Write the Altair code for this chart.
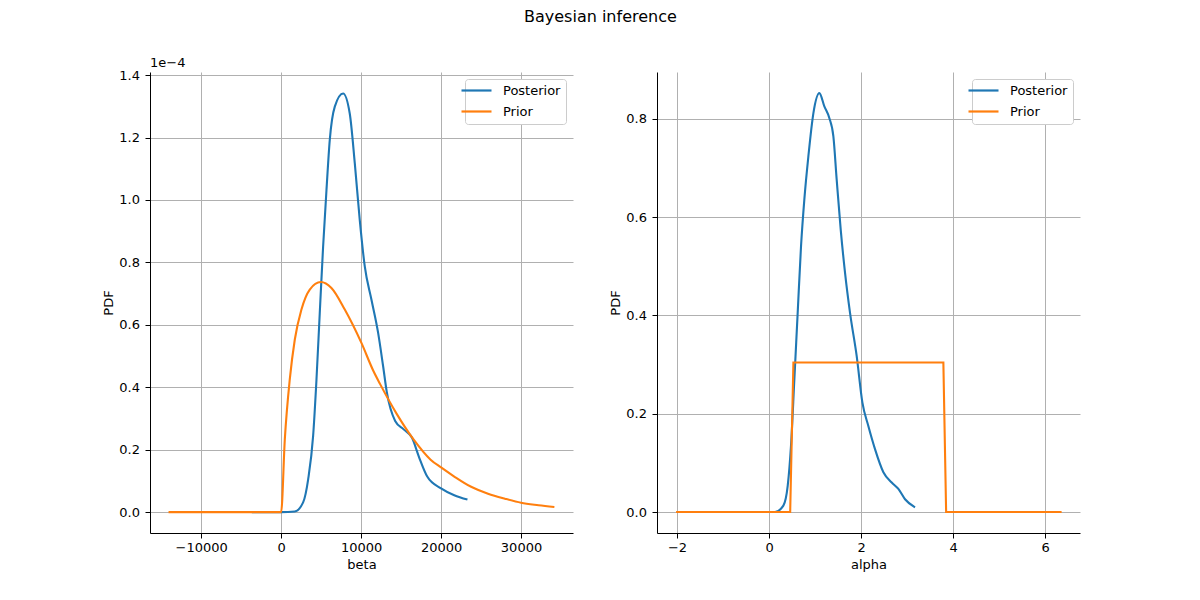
import altair as alt
import pandas as pd

# ---- data ----
series_names = ["Posterior", "Prior"]
series_colors = ["#1f77b4", "#ff7f0e"]

beta_post_x = [-3670, 0, 1710, 2750, 3380, 4000, 4420, 4830, 5250, 5670, 6080, 6710,
               7750, 8580, 9210, 9830, 10460, 11290, 12130, 12750, 13210, 14260,
               15320, 16370, 17220, 18270, 20000, 21650, 23300]
beta_post_pdf_e4 = [0.0, 0.0, 0.002, 0.031, 0.105, 0.244, 0.425, 0.638, 0.851, 1.032, 1.192, 1.299,
                    1.341, 1.277, 1.118, 0.936, 0.787, 0.681, 0.574, 0.468, 0.385, 0.292,
                    0.265, 0.238, 0.178, 0.114, 0.076, 0.054, 0.040]

beta_prior_x = [-14080, 0, 460, 1080, 1710, 2540, 3580, 4960, 6290, 7960, 10040, 11540,
                12380, 14470, 16580, 18690, 20000, 21650, 23760, 25870, 27980, 30000,
                32190, 34170]
beta_prior_pdf_e4 = [0.0, 0.0, 0.233, 0.425, 0.553, 0.649, 0.713, 0.737, 0.718, 0.649, 0.542, 0.452,
                     0.410, 0.314, 0.232, 0.168, 0.143, 0.114, 0.081, 0.059, 0.043, 0.030,
                     0.022, 0.016]

alpha_post_x = [-0.536, 0.13, 0.312, 0.406, 0.478, 0.551, 0.623, 0.696, 0.768, 0.855, 0.964,
                1.094, 1.203, 1.312, 1.399, 1.471, 1.558, 1.652, 1.761, 1.906, 2.029,
                2.159, 2.304, 2.486, 2.667, 2.812, 2.957, 3.174]
alpha_post_pdf = [0.0, 0.0, 0.013, 0.053, 0.135, 0.270, 0.405, 0.541, 0.636, 0.723, 0.811,
                  0.852, 0.825, 0.801, 0.764, 0.676, 0.575, 0.487, 0.405, 0.317, 0.223,
                  0.175, 0.128, 0.081, 0.060, 0.047, 0.026, 0.0095]

alpha_prior_x = [-2.02, 0.46, 0.53, 3.79, 3.85, 6.36]
alpha_prior_pdf = [0.0, 0.0, 0.304, 0.304, 0.0, 0.0]

beta_ticks = [-10000, 0, 10000, 20000, 30000]
beta_pdf_ticks = [0.0, 0.2, 0.4, 0.6, 0.8, 1.0, 1.2, 1.4]
alpha_ticks = [-2, 0, 2, 4, 6]
alpha_pdf_ticks = [0.0, 0.2, 0.4, 0.6, 0.8]

FONT = "DejaVu Sans"


def frame(xs, ys, name):
    return pd.DataFrame({"x": xs, "pdf": ys, "series": name})


def panel(post, prior, xtitle, xdom, ydom, xticks, yticks, prior_interp, title=None):
    color = alt.Color(
        "series:N",
        scale=alt.Scale(domain=series_names, range=series_colors),
        legend=alt.Legend(
            title=None, orient="top-right", offset=7,
            symbolType="M-3,0H3", symbolSize=100, symbolStrokeWidth=2.2,
            labelFont=FONT, labelFontSize=13, labelColor="black", labelOffset=20,
            fillColor="white", strokeColor="#cccccc", cornerRadius=3,
            padding=5, rowPadding=7,
        ),
    )
    x = alt.X("x:Q", title=xtitle,
              scale=alt.Scale(domain=xdom, nice=False, zero=False),
              axis=alt.Axis(values=xticks, format="d", labelPadding=3, titlePadding=4))
    y = alt.Y("pdf:Q", title="PDF",
              scale=alt.Scale(domain=ydom, nice=False, zero=False),
              axis=alt.Axis(values=yticks, format=".1f", labelPadding=5.5, titlePadding=3))
    l1 = alt.Chart(post).mark_line(strokeWidth=2.1, interpolate="monotone").encode(
        x=x, y=y, color=color)
    l2 = alt.Chart(prior).mark_line(strokeWidth=2.1, interpolate=prior_interp).encode(
        x=x, y=y, color=color)
    props = dict(width=423, height=461)
    if title is not None:
        props["title"] = title
    return alt.layer(l1, l2).properties(**props)


left = panel(
    frame(beta_post_x, beta_post_pdf_e4, "Posterior"),
    frame(beta_prior_x, beta_prior_pdf_e4, "Prior"),
    "beta", [-16400, 36500], [-0.067, 1.41], beta_ticks, beta_pdf_ticks, "monotone",
    title=alt.TitleParams("1e\u22124", anchor="start", frame="group", fontSize=13,
                          fontWeight="normal", font=FONT, color="black", offset=-1),
)
right = panel(
    frame(alpha_post_x, alpha_post_pdf, "Posterior"),
    frame(alpha_prior_x, alpha_prior_pdf, "Prior"),
    "alpha", [-2.435, 6.76], [-0.0427, 0.895], alpha_ticks, alpha_pdf_ticks, "linear",
)

chart = (
    alt.hconcat(left, right, spacing=84, bounds="flush")
    .resolve_scale(color="independent")
    .resolve_legend(color="independent")
    .properties(
        title=alt.TitleParams("Bayesian inference", fontSize=16, fontWeight="normal",
                              font=FONT, color="black", anchor="middle", offset=32, dx=9),
        padding={"left": 94, "top": 1, "right": 5, "bottom": 5},
        background="white",
    )
    .configure_view(stroke=None)
    .configure_axis(
        grid=True, gridColor="#b0b0b0", gridWidth=1,
        domainColor="black", domainWidth=1, tickColor="black", tickSize=5, tickWidth=1,
        labelFont=FONT, labelFontSize=13, labelColor="black",
        titleFont=FONT, titleFontSize=13, titleFontWeight="normal", titleColor="black",
    )
)

chart.save("out.html", embed_options={"renderer": "svg", "actions": False})
